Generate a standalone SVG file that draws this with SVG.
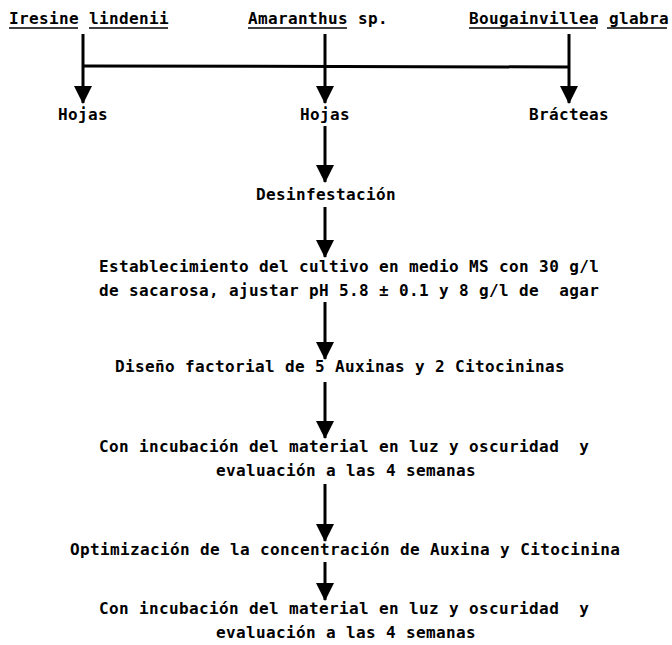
<svg xmlns="http://www.w3.org/2000/svg" width="672" height="645" viewBox="0 0 672 645">
<defs>
<marker id="ah" markerUnits="userSpaceOnUse" markerWidth="18" markerHeight="18" viewBox="0 0 18 18" refX="17" refY="9" orient="auto">
<path d="M0,0 L18,9 L0,18 Z" fill="#000"/>
</marker>
<style>
text{font-family:"DejaVu Sans Mono","Liberation Mono",monospace;font-size:16px;font-weight:bold;fill:#000;letter-spacing:0.37px}
.ln{stroke:#000;stroke-width:3;fill:none}
.ul{stroke:#000;stroke-width:1.5}
</style>
</defs>
<g id="connectors">
<line class="ln" x1="83" y1="34" x2="83" y2="103" marker-end="url(#ah)"/>
<line class="ln" x1="325" y1="34" x2="325" y2="103" marker-end="url(#ah)"/>
<line class="ln" x1="569" y1="34" x2="569" y2="103" marker-end="url(#ah)"/>
<line class="ln" x1="83" y1="66" x2="569" y2="67"/>
<line class="ln" x1="325" y1="126" x2="325" y2="182" marker-end="url(#ah)"/>
<line class="ln" x1="325" y1="207" x2="325" y2="257" marker-end="url(#ah)"/>
<line class="ln" x1="325" y1="302" x2="325" y2="359" marker-end="url(#ah)"/>
<line class="ln" x1="325" y1="382" x2="325" y2="438" marker-end="url(#ah)"/>
<line class="ln" x1="325" y1="484" x2="325" y2="541" marker-end="url(#ah)"/>
<line class="ln" x1="325" y1="562" x2="325" y2="600" marker-end="url(#ah)"/>
</g>
<g id="n-iresine">
<text x="9" y="24">Iresine lindenii</text>
<line class="ul" x1="9" y1="28" x2="78" y2="28"/>
<line class="ul" x1="89" y1="28" x2="168" y2="28"/>
</g>
<g id="n-amaranthus">
<text x="248" y="24">Amaranthus sp.</text>
<line class="ul" x1="248" y1="28" x2="347" y2="28"/>
</g>
<g id="n-bougainvillea">
<text x="469" y="24" letter-spacing="0.15">Bougainvillea glabra</text>
<line class="ul" x1="469" y1="28" x2="596" y2="28"/>
<line class="ul" x1="607" y1="28" x2="667" y2="28"/>
</g>
<g id="n-hojas1"><text x="83" y="120" text-anchor="middle">Hojas</text></g>
<g id="n-hojas2"><text x="325" y="120" text-anchor="middle">Hojas</text></g>
<g id="n-bracteas"><text x="569" y="120" text-anchor="middle">Brácteas</text></g>
<g id="n-desinf"><text x="326" y="200" text-anchor="middle">Desinfestación</text></g>
<g id="n-establecimiento">
<text x="99" y="272">Establecimiento del cultivo en medio MS con 30 g/l</text>
<text x="99" y="296" xml:space="preserve">de sacarosa, ajustar pH 5.8 ± 0.1 y 8 g/l de  agar</text>
</g>
<g id="n-diseno"><text x="115" y="372">Diseño factorial de 5 Auxinas y 2 Citocininas</text></g>
<g id="n-incubacion1">
<text x="99" y="452" xml:space="preserve">Con incubación del material en luz y oscuridad  y</text>
<text x="216" y="476">evaluación a las 4 semanas</text>
</g>
<g id="n-optimizacion"><text x="70" y="555">Optimización de la concentración de Auxina y Citocinina</text></g>
<g id="n-incubacion2">
<text x="99" y="614" xml:space="preserve">Con incubación del material en luz y oscuridad  y</text>
<text x="216" y="638">evaluación a las 4 semanas</text>
</g>
</svg>
